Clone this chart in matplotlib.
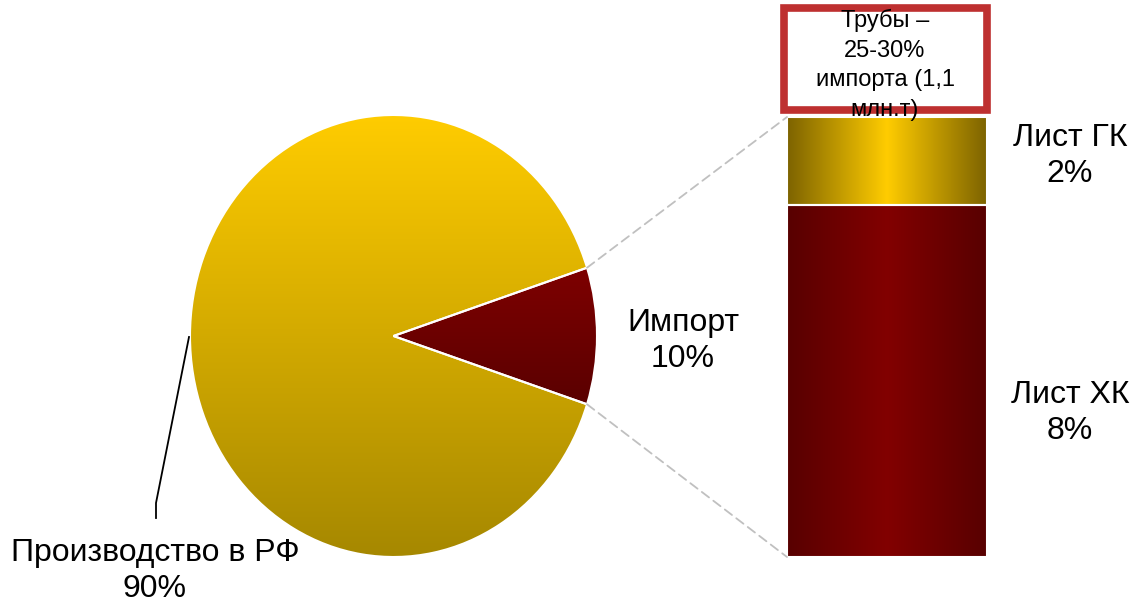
import numpy as np
import matplotlib
matplotlib.use("Agg")
import matplotlib.pyplot as plt
from matplotlib.colors import LinearSegmentedColormap
from matplotlib.patches import ConnectionPatch, Rectangle
from matplotlib.lines import Line2D

plt.rcParams['font.family'] = ['Liberation Sans', 'DejaVu Sans']

pie_labels = ["Производство в РФ", "Импорт"]
pie_values = [90, 10]
bar_labels = ["Лист ХК", "Лист ГК"]
bar_values = [8, 2]
note_text = "Трубы –\n25-30%\nимпорта (1,1\nмлн.т)"

W, H = 1132, 603
fig = plt.figure(figsize=(W / 100, H / 100), dpi=100)


def box(x0, y0, x1, y1):
    # pixel box (top-left origin) -> figure rect
    return [x0 / W, 1 - y1 / H, (x1 - x0) / W, (y1 - y0) / H]


def px(x, y):
    return (x / W, 1 - y / H)


# --- pie ---
ax_pie = fig.add_axes(box(190, 115, 597, 557))
wedges, _ = ax_pie.pie(pie_values, startangle=18, radius=1,
                       wedgeprops=dict(edgecolor="white", linewidth=1.5))
pie_grads = [("#A68800", "#FFCC00"), ("#5A0000", "#7E0000")]
for w, (c_bot, c_top) in zip(wedges, pie_grads):
    w.set_facecolor("none")
    w.set_zorder(2)
    bb = w.get_path().get_extents()
    cm = LinearSegmentedColormap.from_list("g", [c_bot, c_top])
    im = ax_pie.imshow(np.linspace(0, 1, 256).reshape(-1, 1), cmap=cm,
                       extent=(-1, 1, bb.y0, bb.y1), origin="lower", aspect="auto", zorder=1)
    im.set_clip_path(w)
ax_pie.set_aspect("auto")
ax_pie.set_xlim(-1, 1)
ax_pie.set_ylim(-1, 1)
ax_pie.axis("off")

# --- stacked bar ---
ax_bar = fig.add_axes(box(787, 117, 987, 557))
bar_grads = [("#580000", "#820000"), ("#7D6300", "#FFCC00")]
bottom = 0
for v, (c_edge, c_mid) in zip(bar_values, bar_grads):
    b = ax_bar.bar(0, v, bottom=bottom, width=1, facecolor="none",
                   edgecolor="white", linewidth=1.5, zorder=2)[0]
    cm = LinearSegmentedColormap.from_list("h", [c_edge, c_mid, c_edge])
    im = ax_bar.imshow(np.linspace(0, 1, 256).reshape(1, -1), cmap=cm,
                       extent=(-0.5, 0.5, 0, sum(bar_values)), aspect="auto", zorder=1)
    im.set_clip_path(b)
    bottom += v
ax_bar.set_xlim(-0.5, 0.5)
ax_bar.set_ylim(0, sum(bar_values))
ax_bar.axis("off")

# --- connector lines ---
t1 = np.deg2rad(wedges[1].theta1)
t2 = np.deg2rad(wedges[1].theta2)
for ang, yb in [(t2, sum(bar_values)), (t1, 0)]:
    con = ConnectionPatch(xyA=(np.cos(ang), np.sin(ang)), coordsA=ax_pie.transData,
                          xyB=(-0.5, yb), coordsB=ax_bar.transData,
                          color="#C0C0C0", lw=1.3, ls=(0, (5, 3)))
    fig.add_artist(con)

# --- labels ---
fs = 23
ls = 1.25
fig.text(*px(683, 341), f"{pie_labels[1]}\n{pie_values[1]}%", ha="center", va="center",
         fontsize=fs, linespacing=ls)
fig.text(*px(155, 571), f"{pie_labels[0]}\n{pie_values[0]}%", ha="center", va="center",
         fontsize=fs, linespacing=ls)
fig.add_artist(Line2D([px(189, 337)[0], px(156, 503)[0], px(156, 518)[0]],
                      [px(189, 337)[1], px(156, 503)[1], px(156, 518)[1]],
                      color="black", lw=1.3))
fig.text(*px(1070, 156), f"{bar_labels[1]}\n{bar_values[1]}%", ha="center", va="center",
         fontsize=fs, linespacing=ls)
fig.text(*px(1070, 413), f"{bar_labels[0]}\n{bar_values[0]}%", ha="center", va="center",
         fontsize=fs, linespacing=ls)

# --- note box ---
x0, y0 = px(784, 110)
x1, y1 = px(987, 8)
fig.add_artist(Rectangle((x0, y0), x1 - x0, y1 - y0, transform=fig.transFigure,
                         facecolor="white", edgecolor="#BE3030", lw=5.5, zorder=3))
fig.text(*px(885, 65), note_text, ha="center", va="center", fontsize=17,
         linespacing=1.45, zorder=4)

fig.savefig("out.png", dpi=100)
